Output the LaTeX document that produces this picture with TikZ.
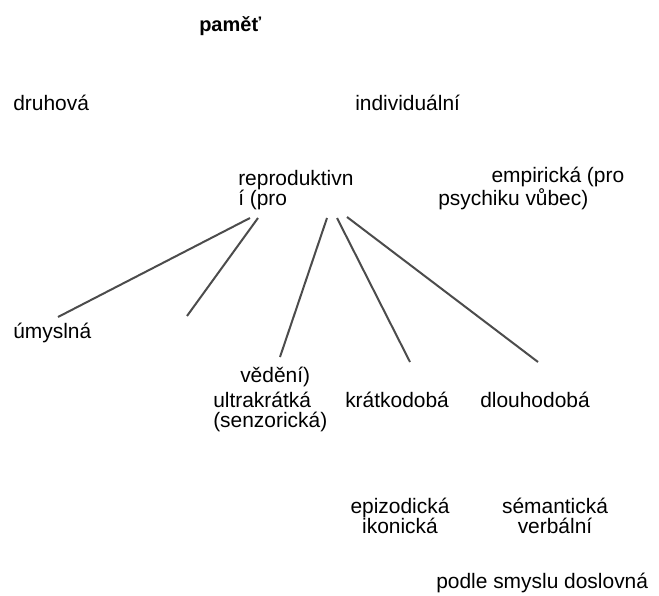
\documentclass[tikz,border=0pt]{standalone}
\usepackage{fontspec}
\setmainfont{Liberation Sans}
\begin{document}
\begin{tikzpicture}[x=0.75pt, y=-0.75pt]
        \tikzstyle{lbl} = [inner sep=0pt, anchor=base west, align=left, font=\fontsize{15.7}{15}\selectfont]
        \tikzstyle{pair} = [lbl, anchor=base, align=center]
        \tikzstyle{branch} = [draw=black!70, line width=1.5pt]
        \useasboundingbox (0,0) rectangle (659,595);
        \node[lbl, font=\fontsize{15}{15}\selectfont\bfseries] (pamet) at (199,32) {paměť};
        \node[lbl] (druh) at (13,111) {druhová};
        \node[lbl] (indiv) at (355,111) {individuální};
        \node[lbl] (repro) at (238,205) {reproduktivn\\í (pro};
        \node[lbl] (empir) at (438,205) {\hspace{40pt}empirická (pro\\psychiku vůbec)};
        \node[lbl] (umysl) at (13,338) {úmyslná};
        \node[lbl] (vedeni) at (240,382) {vědění)};
        \node[lbl] (ultra) at (213,427) {ultrakrátká\\(senzorická)};
        \node[lbl] (kratko) at (345,407) {krátkodobá};
        \node[lbl] (dlouho) at (480,407) {dlouhodobá};
        \node[pair] (epiz) at (400,533) {epizodická\\ikonická};
        \node[pair] (seman) at (555,533) {sémantická\\verbální};
        \node[lbl] (smysl) at (436,588) {podle smyslu doslovná};
        % fan of lines below "i (pro"
        \coordinate (r1) at (250,218); \coordinate (e1) at (58,317);
        \coordinate (r2) at (258,218); \coordinate (e2) at (187,316);
        \coordinate (r3) at (327,218); \coordinate (e3) at (280,357);
        \coordinate (r4) at (337,218); \coordinate (e4) at (410,362);
        \coordinate (r5) at (347,217); \coordinate (e5) at (538,362);
        \draw[branch] (r1) -- (e1);
        \draw[branch] (r2) -- (e2);
        \draw[branch] (r3) -- (e3);
        \draw[branch] (r4) -- (e4);
        \draw[branch] (r5) -- (e5);
\end{tikzpicture}
\end{document}
